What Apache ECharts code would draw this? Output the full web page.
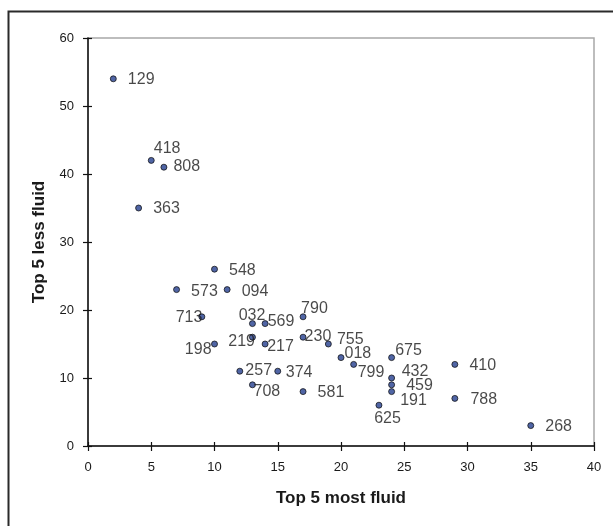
<!DOCTYPE html>
<html>
<head>
<meta charset="utf-8">
<script src="https://cdn.jsdelivr.net/npm/echarts@6/dist/echarts.min.js"></script>
<style>
html,body{margin:0;padding:0;background:#fff;}
#chart{width:613px;height:526px;}
</style>
</head>
<body>
<div id="chart"></div>
<script>
// Data
const names = ['129','418','808','363','548','573','094','713','032','569','790','230','219','755','198','217','018','675','799','410','257','374','432','459','708','191','581','788','625','268'];
const mostFluid = [2,5,6,4,10,7,11,9,13,14,17,17,13,19,10,14,20,24,21,29,12,15,24,24,13,24,17,29,23,35];
const lessFluid = [54,42,41,35,26,23,23,19,18,18,19,16,16,15,15,15,13,13,12,12,11,11,10,9,9,8,8,7,6,3];
const xTicks = [0,5,10,15,20,25,30,35,40];
const yTicks = [0,10,20,30,40,50,60];
const xTitle = 'Top 5 most fluid';
const yTitle = 'Top 5 less fluid';

// Label placement (style): [align, dx, dy] relative to point centre
const labelPlace = {
  '129':['left',15,1],'418':['left',3,-11],'808':['left',10,0],'363':['left',15,1],
  '548':['left',15,1.5],'573':['left',15,2],'094':['left',15,2],'713':['right',1,1.5],
  '032':['center',0,-7.5],'569':['left',3,-1.5],'790':['left',-1.5,-7.5],'230':['left',2,-0.5],
  '219':['right',3,5],'755':['left',9,-4],'198':['right',-2.5,6],'217':['left',2.5,3.5],
  '018':['left',4,-3.5],'675':['left',4,-6.5],'799':['left',4.5,9],'410':['left',15,1.3],
  '257':['left',6,0],'374':['left',8.5,1.5],'432':['left',10.5,-6],'459':['left',15,1.7],
  '708':['left',1.5,7.5],'191':['left',9,9],'581':['left',15,1.4],'788':['left',16,1.7],
  '625':['center',9,13.5],'268':['left',15,1.7]
};
const SYM = 6;

const data = names.map((n,i)=>{
  const p = labelPlace[n];
  return {
    name:n,
    value:[mostFluid[i], lessFluid[i]],
    label:{show:true, position:[SYM/2+p[1], SYM/2+p[2]], align:p[0], verticalAlign:'middle'}
  };
});

const chart = echarts.init(document.getElementById('chart'), null, {renderer:'canvas'});
const axisFont = {fontFamily:'Liberation Sans, Arial, sans-serif', fontSize:13, color:'#1a1a1a'};
chart.setOption({
  backgroundColor:'#ffffff',
  animation:false,
  graphic:[{
    type:'rect', left:6, top:9, shape:{x:0,y:0,width:700,height:600},
    style:{fill:'none', stroke:'#2a2a2a', lineWidth:2}, silent:true, z:-1
  }],
  grid:{left:88, right:19, top:38, bottom:80, show:true, borderColor:'#a8a8a8', borderWidth:1.5, backgroundColor:'transparent'},
  xAxis:[{
    type:'value', min:0, max:40, interval:5, position:'bottom',
    name:xTitle, nameLocation:'middle', nameGap:44,
    nameTextStyle:{fontFamily:'Liberation Sans, Arial, sans-serif', fontSize:17, fontWeight:'bold', color:'#1a1a1a'},
    axisLine:{show:true, onZero:false, lineStyle:{color:'#111', width:1.5}},
    axisTick:{show:true, inside:false, length:5, lineStyle:{color:'#111', width:1.2}},
    axisLabel:Object.assign({margin:15, formatter:v=>xTicks.includes(v)?String(v):''}, axisFont),
    splitLine:{show:false}
  },{
    type:'value', min:0, max:40, interval:5, position:'bottom', offset:0,
    axisLine:{show:false}, axisLabel:{show:false}, splitLine:{show:false},
    axisTick:{show:true, inside:true, length:4, lineStyle:{color:'#111', width:1.2}}
  }],
  yAxis:[{
    type:'value', min:0, max:60, interval:10, position:'left',
    name:yTitle, nameLocation:'middle', nameGap:40, nameRotate:90,
    nameTextStyle:{fontFamily:'Liberation Sans, Arial, sans-serif', fontSize:17, fontWeight:'bold', color:'#1a1a1a'},
    axisLine:{show:true, onZero:false, lineStyle:{color:'#111', width:1.5}},
    axisTick:{show:true, inside:false, length:5, lineStyle:{color:'#111', width:1.2}},
    axisLabel:Object.assign({margin:14, formatter:v=>yTicks.includes(v)?String(v):''}, axisFont),
    splitLine:{show:false}
  },{
    type:'value', min:0, max:60, interval:10, position:'left', offset:0,
    axisLine:{show:false}, axisLabel:{show:false}, splitLine:{show:false},
    axisTick:{show:true, inside:true, length:4, lineStyle:{color:'#111', width:1.2}}
  }],
  series:[{
    type:'scatter', xAxisIndex:0, yAxisIndex:0,
    symbol:'circle', symbolSize:SYM,
    itemStyle:{color:'#243f8f', borderColor:'#0a0a0a', borderWidth:0.9},
    label:{show:true, formatter:'{b}', fontFamily:'Liberation Sans, Arial, sans-serif', fontSize:16, color:'#1a1a1a'},
    labelLayout:{hideOverlap:false},
    data:data
  }]
});
</script>
</body>
</html>
